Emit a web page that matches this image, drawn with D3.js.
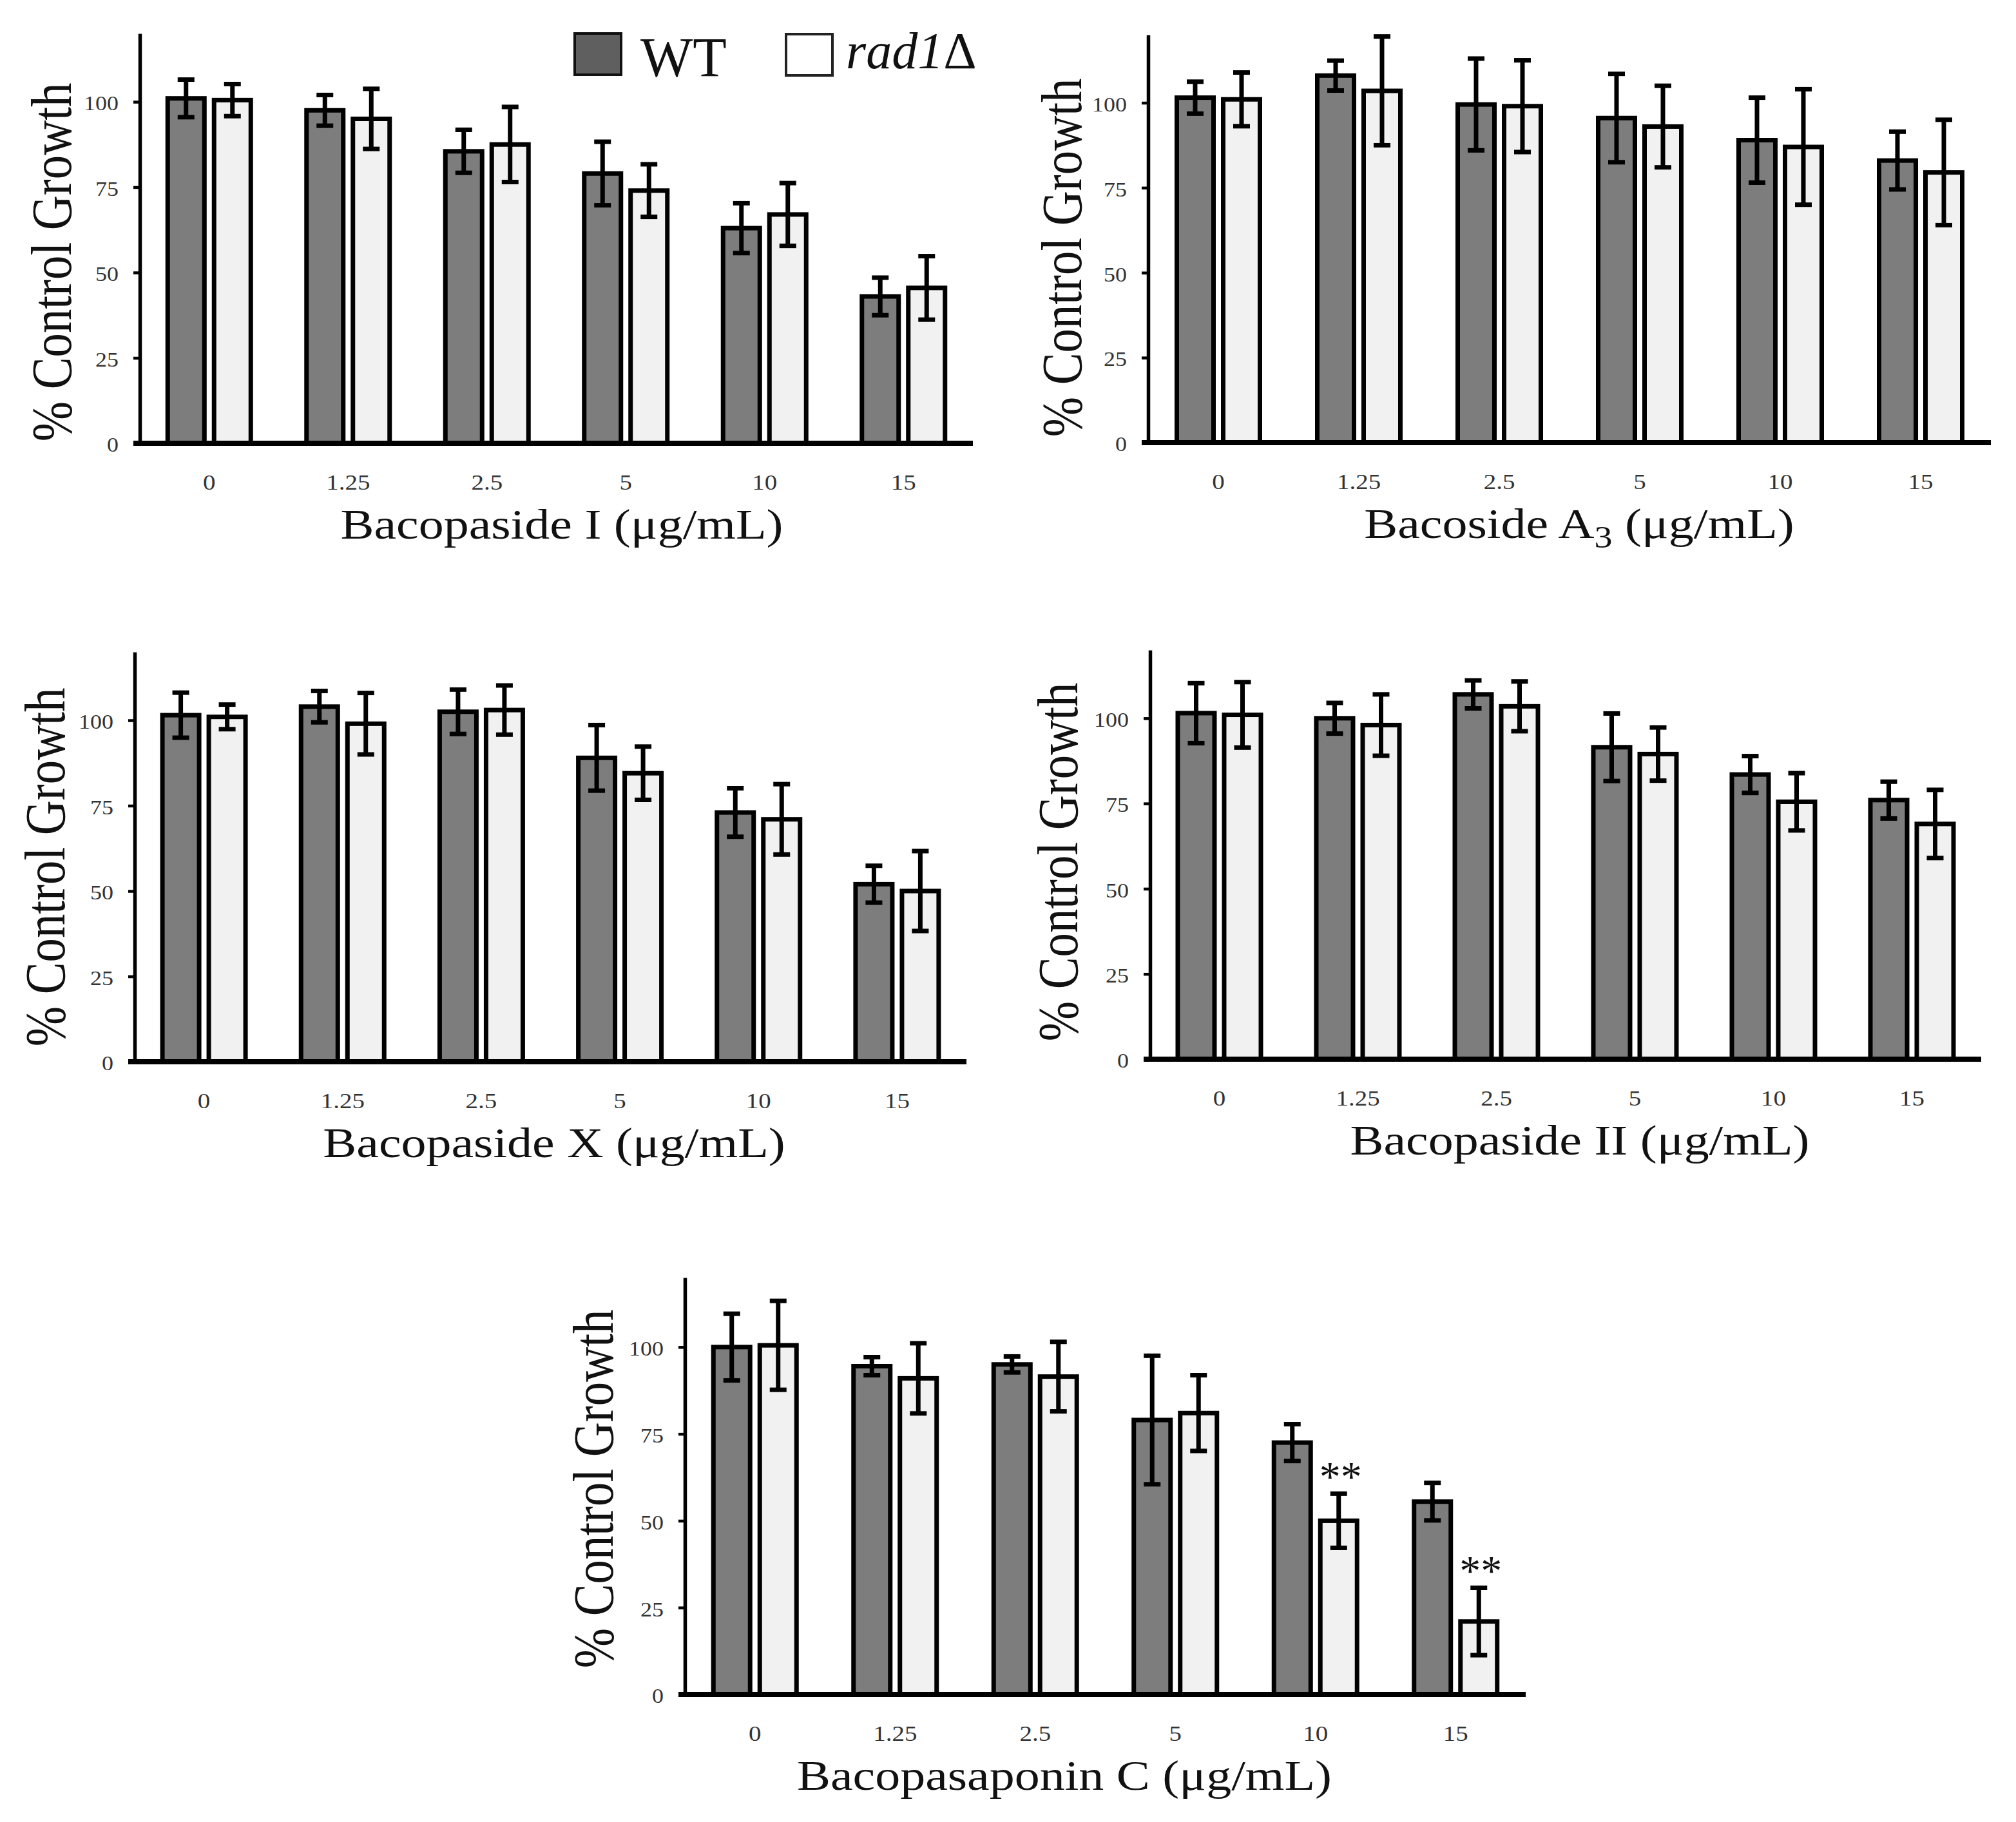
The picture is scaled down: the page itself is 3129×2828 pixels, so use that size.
<!DOCTYPE html>
<html><head><meta charset="utf-8">
<script src="https://cdn.jsdelivr.net/npm/d3@7"></script>
<style>body{margin:0;background:#fff}svg{display:block}</style>
</head><body>
<script>
// ---------- data ----------
const concentrations = ["0", "1.25", "2.5", "5", "10", "15"];
const seriesKeys = ["WT", "rad1"];
const yTickValues = [0, 25, 50, 75, 100];

const bacopasideI_WT      = [101, 97.5, 85.5, 79, 63, 43];
const bacopasideI_WTerr   = [5.5, 4.5, 6.3, 9.3, 7.3, 5.5];
const bacopasideI_rad1    = [100.5, 95, 87.5, 74, 67, 45.5];
const bacopasideI_rad1err = [4.7, 8.8, 11, 7.7, 9.2, 9.3];

const bacosideA3_WT      = [101.5, 108, 99.5, 95.5, 89, 83];
const bacosideA3_WTerr   = [4.7, 4.4, 13.5, 13, 12.5, 8.5];
const bacosideA3_rad1    = [101, 103.5, 99, 93, 87, 79.5];
const bacosideA3_rad1err = [7.9, 16, 13.5, 12, 17, 15.5];

const bacopasideX_WT      = [101.5, 104, 102.5, 89, 73, 52];
const bacopasideX_WTerr   = [6.6, 4.6, 6.5, 9.6, 7.1, 5.4];
const bacopasideX_rad1    = [101, 99, 103, 84.5, 71, 50];
const bacopasideX_rad1err = [3.6, 9, 7.2, 7.8, 10.3, 11.7];

const bacopasideII_WT      = [101.5, 100, 107, 91.5, 83.5, 76];
const bacopasideII_WTerr   = [8.8, 4.5, 4.1, 9.9, 5.4, 5.4];
const bacopasideII_rad1    = [101, 98, 103.5, 89.5, 75.5, 69];
const bacopasideII_rad1err = [9.6, 9, 7.3, 7.8, 8.4, 10];

const bacopasaponinC_WT      = [100, 94.5, 95, 79, 72.5, 55.5];
const bacopasaponinC_WTerr   = [9.6, 2.6, 2.3, 18.5, 5.3, 5.4];
const bacopasaponinC_rad1    = [100.5, 91, 91.5, 81, 50, 21];
const bacopasaponinC_rad1err = [12.8, 10.1, 10, 10.9, 7.8, 9.7];
const bacopasaponinC_rad1sig = ["", "", "", "", "**", "**"];
const noSig = ["", "", "", "", "", ""];

const panels = [
  {title: "Bacopaside I", sub: null, wt: bacopasideI_WT, wtErr: bacopasideI_WTerr, rad: bacopasideI_rad1, radErr: bacopasideI_rad1err, sig: noSig},
  {title: "Bacoside A", sub: "3", wt: bacosideA3_WT, wtErr: bacosideA3_WTerr, rad: bacosideA3_rad1, radErr: bacosideA3_rad1err, sig: noSig},
  {title: "Bacopaside X", sub: null, wt: bacopasideX_WT, wtErr: bacopasideX_WTerr, rad: bacopasideX_rad1, radErr: bacopasideX_rad1err, sig: noSig},
  {title: "Bacopaside II", sub: null, wt: bacopasideII_WT, wtErr: bacopasideII_WTerr, rad: bacopasideII_rad1, radErr: bacopasideII_rad1err, sig: noSig},
  {title: "Bacopasaponin C", sub: null, wt: bacopasaponinC_WT, wtErr: bacopasaponinC_WTerr, rad: bacopasaponinC_rad1, radErr: bacopasaponinC_rad1err, sig: bacopasaponinC_rad1sig}
];

// ---------- layout ----------
const layout = [
  {x0: 217,  x1: 1510, yb: 688,  yt: 52,   titleX: 872,  yTitleX: 110,  yTitleY: 407},
  {x0: 1782, x1: 3090, yb: 687,  yt: 54,   titleX: 2451, yTitleX: 1678, yTitleY: 400},
  {x0: 209,  x1: 1500, yb: 1648, yt: 1012, titleX: 860,  yTitleX: 100,  yTitleY: 1346},
  {x0: 1785, x1: 3075, yb: 1644, yt: 1009, titleX: 2452, yTitleX: 1672, yTitleY: 1338},
  {x0: 1063, x1: 2368, yb: 2630, yt: 1983, titleX: 1652, yTitleX: 951,  yTitleY: 2311}
];
const FONT = "Liberation Serif, Times New Roman, serif";
const SQ = 0.85;
const fills = {WT: "#7d7d7d", rad1: "#f1f1f1"};

const svg = d3.select("body").append("svg").attr("width", 3129).attr("height", 2828);
svg.append("rect").attr("width", 3129).attr("height", 2828).attr("fill", "#fff");

panels.forEach((p, i) => {
  const L = layout[i];
  const g = svg.append("g");
  const x = d3.scaleBand().domain(concentrations).range([L.x0, L.x1]);
  const y = d3.scaleLinear().domain([0, 120]).range([L.yb, L.yt]);
  const sub = d3.scaleBand().domain(seriesKeys).range([-64.5, 64.5]).paddingInner(0.2083);
  const rows = concentrations.flatMap((c, j) => [
    {c, k: "WT", v: p.wt[j], e: p.wtErr[j], s: ""},
    {c, k: "rad1", v: p.rad[j], e: p.radErr[j], s: p.sig[j]}
  ]);
  const cx = d => x(d.c) + x.bandwidth() / 2 + sub(d.k) + sub.bandwidth() / 2;

  g.selectAll("rect.bar").data(rows).join("rect").attr("class", "bar")
    .attr("x", d => x(d.c) + x.bandwidth() / 2 + sub(d.k))
    .attr("width", sub.bandwidth())
    .attr("y", d => y(d.v))
    .attr("height", d => y(0) - y(d.v))
    .attr("fill", d => fills[d.k])
    .attr("stroke", "#000").attr("stroke-width", 7);

  const eb = g.selectAll("g.err").data(rows).join("g").attr("class", "err")
    .attr("stroke", "#000").attr("stroke-width", 7);
  eb.append("line").attr("x1", cx).attr("x2", cx)
    .attr("y1", d => y(d.v - d.e)).attr("y2", d => y(d.v + d.e));
  eb.append("line").attr("x1", d => cx(d) - 13).attr("x2", d => cx(d) + 13)
    .attr("y1", d => y(d.v + d.e)).attr("y2", d => y(d.v + d.e));
  eb.append("line").attr("x1", d => cx(d) - 13).attr("x2", d => cx(d) + 13)
    .attr("y1", d => y(d.v - d.e)).attr("y2", d => y(d.v - d.e));

  g.selectAll("text.sig").data(rows.filter(d => d.s)).join("text").attr("class", "sig")
    .attr("transform", d => `translate(${cx(d) + 3},${y(d.v + d.e) - 4})`)
    .attr("text-anchor", "middle").attr("font-family", FONT).attr("font-size", 66)
    .attr("fill", "#111").text(d => d.s);

  // y axis
  const ya = g.append("g").attr("transform", `translate(${L.x0},0)`)
    .call(d3.axisLeft(y).tickValues(yTickValues).tickSize(10).tickSizeOuter(0).tickPadding(23));
  ya.attr("font-family", FONT).attr("font-size", 36);
  ya.select(".domain").attr("stroke", "#000").attr("stroke-width", 5.5);
  ya.selectAll(".tick line").attr("stroke", "#000").attr("stroke-width", 4.5);
  ya.selectAll(".tick text").attr("fill", "#333").attr("dy", "0.42em")
    .attr("transform", `scale(1,${SQ})`);

  // x axis
  const xa = g.append("g").attr("transform", `translate(0,${L.yb})`)
    .call(d3.axisBottom(x).tickSize(0).tickPadding(0));
  xa.attr("font-family", FONT).attr("font-size", 39);
  xa.select(".domain").remove();
  xa.selectAll(".tick text").attr("fill", "#333").attr("y", 0).attr("dy", 0)
    .attr("transform", `translate(0,72) scale(1,${SQ})`);
  g.append("line").attr("x1", L.x0 - 10).attr("x2", L.x1)
    .attr("y1", y(0)).attr("y2", y(0)).attr("stroke", "#000").attr("stroke-width", 8);

  // x title
  const xt = g.append("text")
    .attr("transform", `translate(${L.titleX},${L.yb + 148}) scale(1,${SQ})`)
    .attr("text-anchor", "middle").attr("font-family", FONT).attr("font-size", 78).attr("fill", "#111");
  xt.append("tspan").text(p.title);
  if (p.sub) {
    xt.append("tspan").attr("font-size", 56).attr("dy", 18).text(p.sub);
    xt.append("tspan").attr("dy", -18).text(" (μg/mL)");
  } else {
    xt.append("tspan").text(" (μg/mL)");
  }

  // y title
  g.append("text")
    .attr("transform", `translate(${L.yTitleX},${L.yTitleY}) rotate(-90) scale(${SQ},1)`)
    .attr("text-anchor", "middle").attr("font-family", FONT).attr("font-size", 88).attr("fill", "#111")
    .text("% Control Growth");
});

// legend
const leg = svg.append("g");
leg.append("rect").attr("x", 892).attr("y", 52).attr("width", 72).attr("height", 64)
  .attr("fill", "#5f5f5f").attr("stroke", "#111").attr("stroke-width", 4);
leg.append("text").attr("x", 994).attr("y", 118).attr("font-family", FONT).attr("font-size", 86)
  .attr("fill", "#111").text(seriesKeys[0]);
leg.append("rect").attr("x", 1220).attr("y", 53).attr("width", 72).attr("height", 64)
  .attr("fill", "#fff").attr("stroke", "#222").attr("stroke-width", 4);
const lt = leg.append("text").attr("x", 1313).attr("y", 106).attr("font-family", FONT).attr("font-size", 80)
  .attr("fill", "#111");
lt.append("tspan").attr("font-style", "italic").text(seriesKeys[1]);
lt.append("tspan").text("Δ");
</script>
</body></html>
